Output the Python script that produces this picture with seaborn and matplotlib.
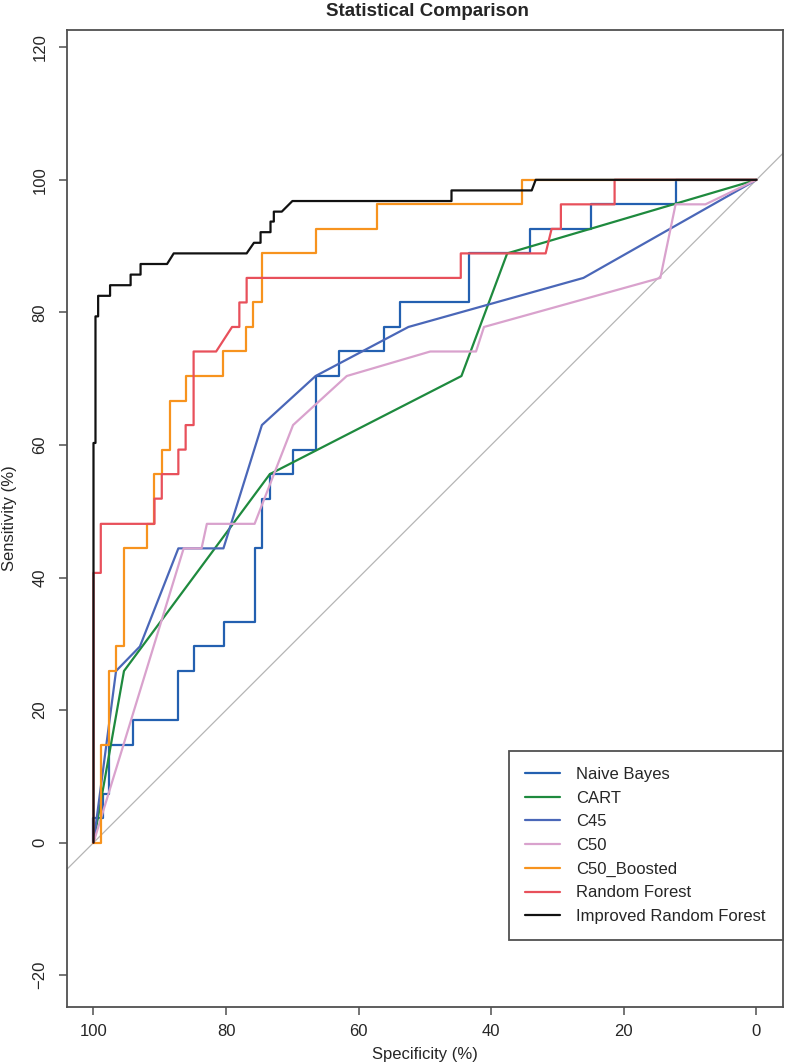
import matplotlib
matplotlib.use("Agg")
import matplotlib.pyplot as plt
import seaborn as sns
import pandas as pd

# ROC curves (specificity %, sensitivity %)
MODELS = ["Naive Bayes", "CART", "C45", "C50", "C50_Boosted",
          "Random Forest", "Improved Random Forest"]

nb_spec = [100, 100, 98.5, 98.5, 97.7, 97.7, 94.1, 94.1, 87.2, 87.2, 84.9, 84.9,
           80.3, 80.3, 75.7, 75.7, 74.6, 74.6, 73.4, 73.4, 69.9, 69.9, 66.5, 66.5,
           63.0, 63.0, 56.2, 56.2, 53.8, 53.8, 43.4, 43.4, 34.2, 34.2, 24.9, 24.9,
           12.2, 12.2, 0]
nb_sens = [0, 3.7, 3.7, 7.4, 7.4, 14.8, 14.8, 18.5, 18.5, 25.9, 25.9, 29.6,
           29.6, 33.3, 33.3, 44.4, 44.4, 51.9, 51.9, 55.6, 55.6, 59.3, 59.3, 70.4,
           70.4, 74.1, 74.1, 77.8, 77.8, 81.5, 81.5, 88.9, 88.9, 92.6, 92.6, 96.3,
           96.3, 100, 100]

cart_spec = [100, 95.4, 73.4, 44.5, 37.6, 0]
cart_sens = [0, 25.9, 55.6, 70.4, 88.9, 100]

c45_spec = [100, 96.6, 93.0, 87.2, 80.4, 74.6, 66.5, 52.5, 26.1, 0]
c45_sens = [0, 25.9, 29.6, 44.4, 44.4, 63.0, 70.4, 77.8, 85.2, 100]

c50_spec = [100, 86.4, 83.7, 82.9, 75.7, 69.9, 61.8, 49.2, 42.3, 41.1, 14.5,
            12.2, 7.7, 0]
c50_sens = [0, 44.4, 44.4, 48.1, 48.1, 63.0, 70.4, 74.1, 74.1, 77.8, 85.2,
            96.3, 96.3, 100]

boost_spec = [100, 98.8, 98.8, 97.7, 97.7, 96.6, 96.6, 95.4, 95.4, 91.9, 91.9,
              90.8, 90.8, 89.7, 89.7, 88.5, 88.5, 86.1, 86.1, 80.4, 80.4, 77.0,
              77.0, 75.9, 75.9, 74.6, 74.6, 66.5, 66.5, 57.3, 57.3, 35.3, 35.3, 0]
boost_sens = [0, 0, 14.8, 14.8, 25.9, 25.9, 29.6, 29.6, 44.4, 44.4, 48.1,
              48.1, 55.6, 55.6, 59.3, 59.3, 66.7, 66.7, 70.4, 70.4, 74.1, 74.1,
              77.8, 77.8, 81.5, 81.5, 88.9, 88.9, 92.6, 92.6, 96.3, 96.3, 100, 100]

rf_spec = [100, 100, 98.9, 98.9, 90.8, 90.8, 89.7, 89.7, 87.2, 87.2, 86.1, 86.1,
           84.9, 84.9, 81.5, 79.1, 78.0, 78.0, 76.9, 76.9, 44.6, 44.6, 31.8,
           30.9, 29.5, 29.5, 21.4, 21.4, 0]
rf_sens = [0, 40.7, 40.7, 48.1, 48.1, 51.9, 51.9, 55.6, 55.6, 59.3, 59.3, 63.0,
           63.0, 74.1, 74.1, 77.8, 77.8, 81.5, 81.5, 85.2, 85.2, 88.9, 88.9,
           92.6, 92.6, 96.3, 96.3, 100, 100]

irf_spec = [100, 100, 99.7, 99.7, 99.3, 99.3, 97.5, 97.5, 94.4, 94.4, 92.9, 92.9,
            88.9, 87.9, 76.9, 75.8, 74.8, 74.8, 73.3, 73.3, 72.8, 72.8, 71.6,
            70.0, 46.0, 46.0, 33.9, 33.3, 0]
irf_sens = [0, 60.3, 60.3, 79.4, 79.4, 82.5, 82.5, 84.1, 84.1, 85.7, 85.7, 87.3,
            87.3, 88.9, 88.9, 90.5, 90.5, 92.1, 92.1, 93.7, 93.7, 95.2, 95.2,
            96.8, 96.8, 98.4, 98.4, 100, 100]

COLORS = ["#2360b0", "#1e8a3e", "#4a67b8", "#d9a2cd", "#f7931e", "#e8505b", "#111111"]

X_TICKS = [100, 80, 60, 40, 20, 0]
Y_TICKS = [-20, 0, 20, 40, 60, 80, 100, 120]


def build_frame():

    curves = [(nb_spec, nb_sens), (cart_spec, cart_sens), (c45_spec, c45_sens),
              (c50_spec, c50_sens), (boost_spec, boost_sens), (rf_spec, rf_sens),
              (irf_spec, irf_sens)]

    parts = []
    for name, (sp, se) in zip(MODELS, curves):
        parts.append(pd.DataFrame({"spec": sp, "sens": se, "model": name}))

    return pd.concat(parts, ignore_index=True)


def main():

    sns.set_style("white")
    plt.rcParams["font.family"] = ["Liberation Sans", "DejaVu Sans"]

    df = build_frame()

    fig = plt.figure(figsize=(7.87, 10.64), dpi=100)
    ax = fig.add_axes([0.0851, 0.0535, 0.9098, 0.9183])

    # chance line
    ax.axline((100, 0), (0, 100), color="#b5b5b5", lw=0.9, zorder=1)

    for name, col in zip(MODELS, COLORS):
        sub = df[df["model"] == name]
        sns.lineplot(data=sub, x="spec", y="sens", sort=False, estimator=None,
                     color=col, lw=1.6, label=name, ax=ax, zorder=2)

    ax.set_xlim(104, -4)
    ax.set_ylim(-24.8, 122.6)
    ax.set_xticks(X_TICKS)
    ax.set_yticks(Y_TICKS)

    ax.set_xlabel("Specificity (%)", fontsize=12, labelpad=6)
    ax.set_ylabel("Sensitivity (%)", fontsize=12, labelpad=11)

    for s in ax.spines.values():
        s.set_color("#505050")
        s.set_linewidth(1.3)

    ax.tick_params(axis="both", direction="out", length=6, width=1.1,
                   color="#505050", labelsize=12, bottom=True, left=True)
    ax.tick_params(axis="x", pad=6)
    ax.tick_params(axis="y", pad=8)
    for lab in ax.get_yticklabels():
        lab.set_rotation(90)
        lab.set_va("center")

    leg = ax.legend(loc="upper left", bbox_to_anchor=(0.617, 0.069, 0.383, 0.193),
                    mode="expand", borderaxespad=0, fontsize=12,
                    frameon=True, fancybox=False, framealpha=1,
                    handlelength=2.1, handletextpad=1.0, labelspacing=0.52,
                    borderpad=0.95)
    leg.get_frame().set_edgecolor("#505050")
    leg.get_frame().set_linewidth(1.3)

    fig.text(0.543, 0.9895, "Statistical Comparison", ha="center", va="center",
             fontsize=13.5, fontweight="bold")

    fig.savefig("out.png", dpi=100)


if __name__ == "__main__":

    main()
